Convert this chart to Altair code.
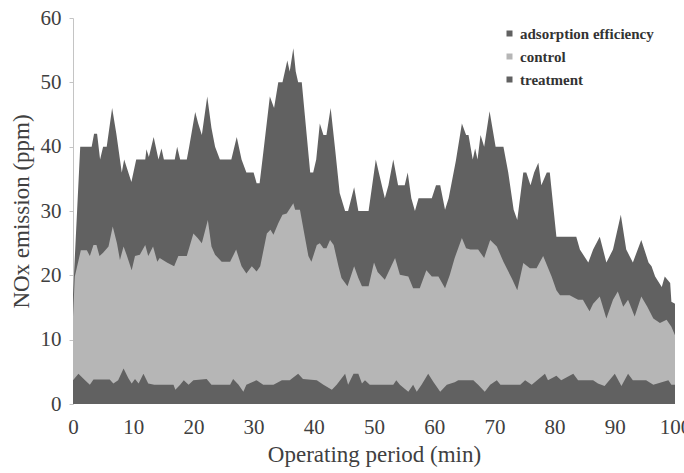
import altair as alt
import pandas as pd

# ---- data ----
minutes_adsorption = [0, 1.2, 3.1, 3.5, 4.0, 4.5, 5.0, 5.6, 6.5, 7.2, 8.1, 8.5, 9.7, 10.5, 12.0,
                      12.2, 12.6, 13.4, 14.2, 14.7, 15.1, 16.9, 17.3, 17.8, 18.9, 19.3, 20.3, 20.8, 21.4, 22.3,
                      23.0, 23.6, 24.4, 26.3, 27.2, 28.0, 28.8, 30.0, 30.5, 31.0, 31.6, 32.7, 33.4, 34.1, 34.8,
                      35.6, 36.0, 36.6, 37.0, 37.4, 38.0, 38.8, 39.4, 39.9, 40.4, 41.0, 41.6, 42.1, 42.8, 43.5,
                      44.3, 45.2, 45.7, 46.7, 47.4, 49.1, 50.3, 50.8, 51.8, 52.4, 53.2, 54.0, 55.1, 55.6, 56.2,
                      56.8, 57.4, 59.6, 60.3, 61.0, 61.8, 62.4, 63.6, 64.6, 65.3, 65.7, 66.4, 66.8, 67.2, 67.7,
                      68.3, 69.2, 70.2, 71.5, 72.3, 73.2, 73.8, 74.8, 75.3, 76.0, 76.6, 77.3, 77.8, 78.7, 79.2,
                      80.3, 83.6, 84.2, 85.6, 86.4, 87.5, 88.6, 89.7, 91.0, 91.9, 93.0, 94.4, 95.6, 96.1, 96.7,
                      97.8, 98.3, 99.2, 99.4, 100]
nox_adsorption = [17, 40, 40, 42, 42, 38, 40, 40, 46, 42, 36, 38, 34.5, 38, 38,
                  39.6, 38.4, 41.5, 38, 39.7, 38, 38, 40, 38, 38, 40, 45.4, 43.6, 41.8, 47.8,
                  42.9, 40, 38, 38, 41.5, 38, 36, 36, 34.3, 34.3, 39, 47.8, 46, 50, 50,
                  53.4, 51.7, 55.3, 51.7, 50, 50, 42, 36, 36, 38, 43.6, 41.8, 41.8, 46, 40,
                  32.8, 30, 30, 33.7, 30, 30, 38, 36, 32, 34, 38, 34, 34, 36, 32,
                  30, 32, 32, 34, 34, 30.2, 32, 37.8, 43.6, 41.8, 41.8, 38, 39.7, 38, 41.8,
                  40, 45.5, 40, 40, 36, 30.2, 28.6, 36, 36, 34, 36, 37.5, 34, 36, 36,
                  26, 26, 24, 22, 24, 26, 22, 24, 29.4, 24, 22, 25.5, 22, 21.4, 19.8,
                  18.2, 19.8, 18.8, 15.9, 15.6]

minutes_control = [0, 0.3, 1.3, 2.3, 2.8, 3.4, 3.9, 4.4, 5.0, 5.9, 6.6, 7.3, 7.8, 8.4, 8.9,
                   9.75, 10.3, 11.1, 12.0, 12.5, 13.3, 14.0, 14.4, 15.6, 16.8, 17.5, 18.9, 20.0, 20.7, 21.4,
                   22.4, 23.0, 23.6, 24.7, 26.1, 27.1, 28.0, 28.8, 29.7, 30.5, 31.1, 32.2, 32.8, 33.3, 34.1,
                   34.8, 35.5, 36.6, 36.9, 37.7, 38.3, 39.1, 39.6, 40.5, 41.0, 41.6, 42.1, 42.7, 43.3, 44.1,
                   44.6, 45.6, 46.7, 47.4, 48.0, 49.1, 50.0, 50.6, 51.8, 52.7, 53.5, 54.3, 55.7, 56.5, 57.6,
                   58.7, 59.6, 60.7, 61.8, 62.6, 63.4, 64.6, 65.3, 66.0, 66.5, 67.3, 68.3, 69.3, 70.4, 71.5,
                   72.9, 73.8, 74.8, 75.9, 77.0, 78.1, 79.5, 80.3, 80.9, 82.5, 83.9, 84.7, 85.8, 86.4, 87.5,
                   88.6, 89.7, 90.5, 91.4, 92.2, 93.3, 94.4, 95.4, 96.4, 97.5, 98.6, 99.4, 100]
nox_control = [13.6, 19.8, 23.9, 23.9, 23, 24.7, 24.7, 23, 23.5, 24.5, 27.6, 25, 22.4, 24.5, 23.2,
               20.8, 23, 23.2, 24.7, 23, 24.5, 22.1, 22.7, 22, 21.4, 23, 23, 26.5, 25.8, 25,
               28.6, 24.5, 23.2, 22.1, 22.1, 24, 21.4, 20.3, 21.4, 20.6, 21.4, 26.5, 27.1, 26.3, 28.1,
               29.4, 29.6, 31.2, 30.2, 30.2, 27.1, 23, 22.1, 24.7, 25, 24.2, 24.2, 25.5, 24.7, 21.4,
               19.6, 18.3, 21.4, 19.6, 18.3, 18.3, 22, 20.5, 19.3, 21.1, 22.7, 20.1, 19.8, 18, 18,
               20.8, 19.8, 19.8, 18, 20.1, 22.7, 25.8, 24.2, 24, 24, 24, 22.7, 25.5, 24.5, 22.1,
               19.5, 17.7, 21.9, 21.1, 21.1, 23, 19.8, 17.7, 16.9, 16.9, 16.2, 16.2, 14.4, 15.6, 16.7,
               13.3, 16.2, 17.5, 15.1, 16.2, 13.6, 16.7, 15.1, 13.3, 12.6, 13.1, 12.0, 10.7]

minutes_treatment = [0, 0.9, 2.0, 2.8, 3.4, 6.1, 6.7, 7.5, 8.4, 9.2, 9.75, 10.3, 10.9, 11.7, 12.5,
                     13.5, 16.7, 17.0, 17.8, 18.4, 19.2, 20.0, 22.2, 23.0, 26.1, 26.6, 27.5, 28.3, 28.8, 30.5,
                     31.6, 33.3, 34.7, 36.0, 37.4, 38.2, 40.5, 41.6, 43.0, 43.8, 45.2, 45.7, 46.6, 47.4, 48.0,
                     48.5, 49.3, 53.2, 53.7, 54.3, 55.7, 56.5, 57.1, 57.9, 59.0, 59.9, 61.0, 62.1, 63.4, 64.0,
                     65.4, 66.5, 67.3, 68.4, 69.3, 70.4, 71.0, 74.3, 75.1, 76.2, 78.4, 78.9, 80.3, 81.1, 83.1,
                     83.9, 86.4, 87.2, 88.3, 90.0, 91.1, 92.2, 93.0, 94.2, 95.2, 96.4, 98.9, 99.4, 100]
nox_treatment = [3.7, 4.7, 3.7, 3.0, 3.8, 3.8, 3.2, 3.7, 5.5, 4.0, 3.2, 3.9, 3.2, 4.7, 3.2,
                 3.0, 3.0, 2.2, 3.0, 3.7, 3.0, 3.7, 3.9, 3.0, 3.0, 3.9, 3.0, 1.9, 3.0, 3.7,
                 3.0, 3.0, 3.7, 3.7, 4.7, 3.9, 3.7, 3.0, 2.2, 3.0, 4.7, 3.0, 4.7, 4.7, 3.2,
                 3.7, 3.0, 3.0, 3.7, 3.0, 1.9, 3.0, 1.9, 3.0, 4.7, 3.4, 1.9, 3.0, 3.4, 3.7,
                 3.7, 3.7, 3.0, 1.9, 3.0, 3.7, 3.0, 3.0, 3.7, 3.0, 4.7, 3.7, 4.4, 3.7, 4.7,
                 3.7, 3.7, 3.2, 2.8, 4.7, 2.8, 4.7, 3.7, 3.7, 3.7, 3.0, 3.7, 3.0, 3.0]

series_names = ["adsorption efficiency", "control", "treatment"]
series_colors = ["#616161", "#b6b6b6", "#616161"]
x_ticks = [0, 10, 20, 30, 40, 50, 60, 70, 80, 90, 100]
y_ticks = [0, 10, 20, 30, 40, 50, 60]

series_frames = {
    "adsorption efficiency": pd.DataFrame({"minute": minutes_adsorption, "nox": nox_adsorption}),
    "control": pd.DataFrame({"minute": minutes_control, "nox": nox_control}),
    "treatment": pd.DataFrame({"minute": minutes_treatment, "nox": nox_treatment}),
}
for name, frame in series_frames.items():
    frame["series"] = name

FONT = "Times New Roman"

color = alt.Color(
    "series:N",
    scale=alt.Scale(domain=series_names, range=series_colors),
    legend=alt.Legend(
        title=None,
        orient="none",
        legendX=429,
        legendY=8,
        symbolType="square",
        symbolSize=36,
        symbolStrokeWidth=0,
        labelFont=FONT,
        labelFontSize=15,
        labelFontWeight="bold",
        labelColor="#333333",
        labelOffset=3,
        rowPadding=7,
        padding=0,
    ),
)

x_enc = alt.X(
    "minute:Q",
    scale=alt.Scale(domain=[0, 100], nice=False, zero=False),
    axis=alt.Axis(
        values=x_ticks,
        title="Operating period (min)",
        domain=False,
        ticks=False,
        grid=False,
        labelPadding=12,
        labelFont=FONT,
        labelFontSize=21,
        labelColor="#404040",
        titleFont=FONT,
        titleFontSize=23,
        titleFontWeight="normal",
        titleColor="#404040",
        titlePadding=6,
        labelOverlap=False,
        labelFlush=False,
    ),
)
y_enc = alt.Y(
    "nox:Q",
    stack=None,
    scale=alt.Scale(domain=[0, 60], nice=False),
    axis=alt.Axis(
        values=y_ticks,
        title="NOx emission (ppm)",
        domain=True,
        domainColor="#c4c4c4",
        ticks=True,
        tickColor="#c4c4c4",
        tickSize=4,
        grid=False,
        labelPadding=8,
        labelFont=FONT,
        labelFontSize=21,
        labelColor="#404040",
        titleFont=FONT,
        titleFontSize=23,
        titleFontWeight="normal",
        titleColor="#404040",
        titlePadding=7,
    ),
)

layers = []
for name in series_names:
    layers.append(
        alt.Chart(series_frames[name])
        .mark_area(interpolate="linear", opacity=1)
        .encode(x=x_enc, y=y_enc, color=color)
    )

chart = (
    alt.layer(*layers)
    .properties(
        width=602,
        height=386,
        autosize=alt.AutoSizeParams(type="none"),
        padding={"left": 73, "top": 18, "right": 9, "bottom": 69},
        background="white",
    )
    .configure(font=FONT)
    .configure_view(stroke=None)
)

chart.save("out.html", embed_options={"renderer": "svg", "actions": False})
